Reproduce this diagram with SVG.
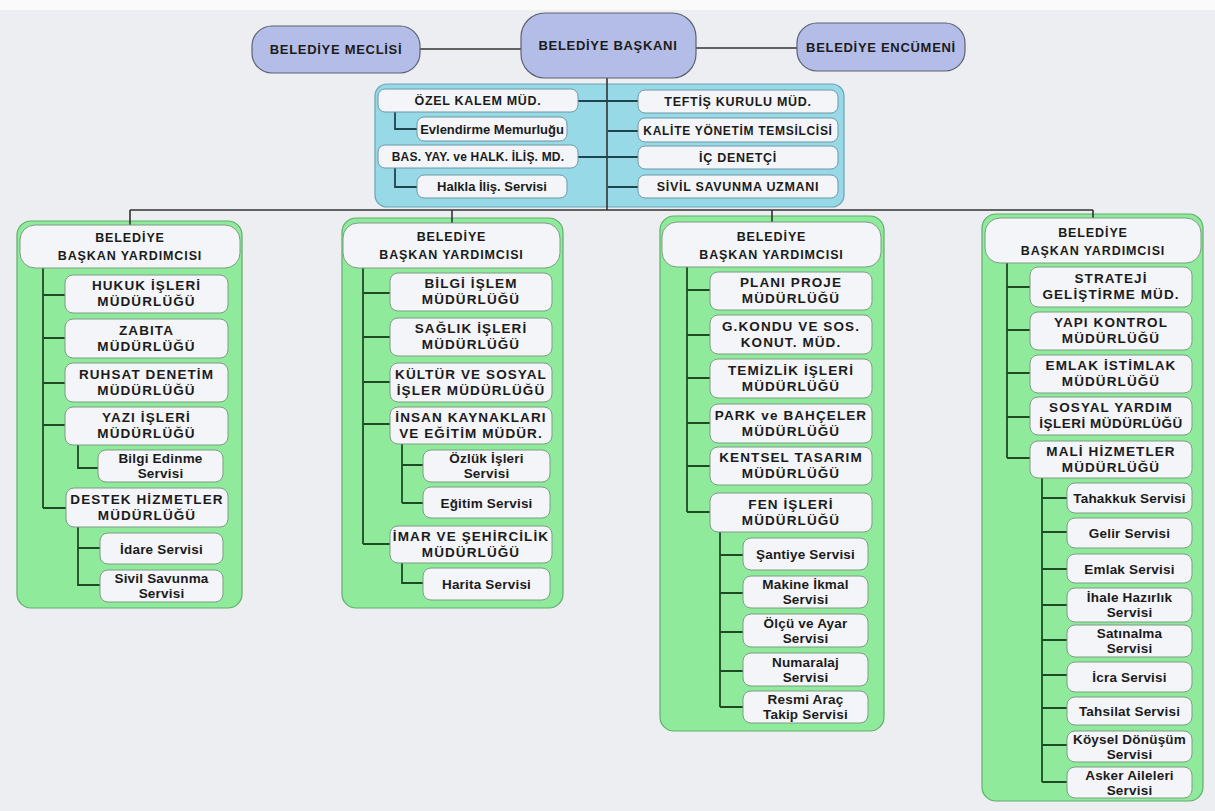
<svg xmlns="http://www.w3.org/2000/svg" width="1215" height="811" viewBox="0 0 1215 811">
<style>
text{font-family:"Liberation Sans",Arial,sans-serif;font-weight:bold;fill:#1b1b1b;text-anchor:middle}
.t{font-size:13px;letter-spacing:0.7px}
.h{font-size:12.5px;letter-spacing:0.9px}
.cc{font-size:12.5px;letter-spacing:0.7px}
.c{font-size:13.5px;letter-spacing:1.1px}
.s{font-size:13.5px;letter-spacing:0.2px}
.sc{font-size:13px}
.top{fill:#b3bde8;stroke:#5c6272;stroke-width:1.2}
.pc{fill:#98d9e8;stroke:#6aa6b4;stroke-width:1.2}
.pg{fill:#8fea9c;stroke:#5fae6a;stroke-width:1.2}
.bx{fill:#f3f5f8;stroke:#7c9c84;stroke-width:1}
.bxc{fill:#f3f5f8;stroke:#6c98a4;stroke-width:1}
.ln{fill:none;stroke:#333;stroke-width:1.6}
.lc{fill:none;stroke:#1f4450;stroke-width:1.8}
.lg{fill:none;stroke:#1f4a24;stroke-width:1.8}
</style>
<rect width="1215" height="811" fill="#eceef1"/>
<rect width="1215" height="10" fill="#fafafa"/>

<!-- containers -->
<g id="panel-staff"><rect class="pc" x="375" y="84" width="469" height="123" rx="12"/></g>
<g id="panel-col1"><rect class="pg" x="17" y="221" width="225" height="387" rx="14"/></g>
<g id="panel-col2"><rect class="pg" x="342" y="218" width="221" height="390" rx="14"/></g>
<g id="panel-col3"><rect class="pg" x="660" y="216" width="224" height="515" rx="14"/></g>
<g id="panel-col4"><rect class="pg" x="982" y="214" width="221" height="587" rx="14"/></g>

<!-- connectors -->
<g id="connectors">
<path class="ln" d="M420 49H521M696 48H797M607 78V210M130 210H1093M130 210V225M452 210V223M772 210V222M1093 210V218"/>
<path class="lc" d="M578 101H638M608 131H638M578 157H638M608 187H638M395 112V129H417M395 168V187H417"/>
<path class="lg" d="M43 268V508M43 295H65M43 338H65M43 383H65M43 425H65M43 508H66M78 445V468H98M78 527V585H100M78 548H100"/>
<path class="lg" d="M363 268V544M363 293H390M363 337H390M363 382H390M363 424H390M363 544H390M402 444V503M402 465H423M402 503H423M402 563V583H423"/>
<path class="lg" d="M687 267V512M687 290H710M687 335H710M687 378H710M687 423H710M687 466H710M687 512H710M720 532V707M720 555H743M720 593H743M720 632H743M720 671H743M720 707H743"/>
<path class="lg" d="M1007 263V458M1007 287H1030M1007 330H1030M1007 373H1030M1007 417H1030M1007 458H1030M1042 478V782M1042 498H1067M1042 532H1067M1042 569H1067M1042 605H1067M1042 640H1067M1042 675H1067M1042 708H1067M1042 745H1067M1042 782H1067"/>
</g>

<!-- top -->
<g id="meclis"><rect class="top" x="252" y="26" width="168" height="47" rx="20"/><text class="t" x="336" y="54">BELEDİYE MECLİSİ</text></g>
<g id="baskan"><rect class="top" x="521" y="13" width="175" height="65" rx="24"/><text class="t" x="608" y="50">BELEDİYE BAŞKANI</text></g>
<g id="encumen"><rect class="top" x="797" y="23" width="168" height="48" rx="20"/><text class="t" x="881" y="52">BELEDİYE ENCÜMENİ</text></g>

<!-- staff -->
<g id="ozel"><rect class="bxc" x="378" y="89" width="200" height="23" rx="7"/><text class="cc" x="478" y="105">ÖZEL KALEM MÜD.</text></g>
<g id="evlendirme"><rect class="bxc" x="417" y="117" width="150" height="24" rx="7"/><text class="sc" x="492" y="133.5">Evlendirme Memurluğu</text></g>
<g id="basyay"><rect class="bxc" x="378" y="145" width="200" height="23" rx="7"/><text class="sc" x="478" y="161" style="font-size:12px;letter-spacing:0.2px">BAS. YAY. ve HALK. İLİŞ. MD.</text></g>
<g id="halkla"><rect class="bxc" x="417" y="175" width="150" height="23" rx="7"/><text class="sc" x="492" y="191">Halkla İliş. Servisi</text></g>
<g id="teftis"><rect class="bxc" x="638" y="90" width="200" height="23" rx="7"/><text class="cc" x="738" y="106">TEFTİŞ KURULU MÜD.</text></g>
<g id="kalite"><rect class="bxc" x="638" y="118" width="200" height="24" rx="7"/><text class="cc" x="738" y="134.5" style="font-size:12px">KALİTE YÖNETİM TEMSİLCİSİ</text></g>
<g id="icdenetci"><rect class="bxc" x="638" y="146" width="200" height="23" rx="7"/><text class="cc" x="738" y="162">İÇ DENETÇİ</text></g>
<g id="sivilsavunma"><rect class="bxc" x="638" y="175" width="200" height="23" rx="7"/><text class="cc" x="738" y="191">SİVİL SAVUNMA UZMANI</text></g>

<!-- column 1 -->
<g id="c1-head"><rect class="bx" x="20" y="225" width="220" height="43" rx="15"/><text class="h"><tspan x="130" y="242">BELEDİYE</tspan><tspan x="130" y="260">BAŞKAN YARDIMCISI</tspan></text></g>
<g id="hukuk"><rect class="bx" x="65" y="275" width="163" height="38" rx="8"/><text class="c"><tspan x="146.5" y="290">HUKUK İŞLERİ</tspan><tspan x="146.5" y="306">MÜDÜRLÜĞÜ</tspan></text></g>
<g id="zabita"><rect class="bx" x="65" y="319" width="163" height="39" rx="8"/><text class="c"><tspan x="146.5" y="334.5">ZABITA</tspan><tspan x="146.5" y="350.5">MÜDÜRLÜĞÜ</tspan></text></g>
<g id="ruhsat"><rect class="bx" x="65" y="363" width="163" height="39" rx="8"/><text class="c"><tspan x="146.5" y="378.5">RUHSAT DENETİM</tspan><tspan x="146.5" y="394.5">MÜDÜRLÜĞÜ</tspan></text></g>
<g id="yazi"><rect class="bx" x="65" y="407" width="163" height="38" rx="8"/><text class="c"><tspan x="146.5" y="422">YAZI İŞLERİ</tspan><tspan x="146.5" y="438">MÜDÜRLÜĞÜ</tspan></text></g>
<g id="bilgiedinme"><rect class="bx" x="98" y="450" width="125" height="32" rx="8"/><text class="s"><tspan x="160.5" y="463">Bilgi Edinme</tspan><tspan x="160.5" y="478">Servisi</tspan></text></g>
<g id="destek"><rect class="bx" x="66" y="488" width="162" height="39" rx="8"/><text class="c"><tspan x="147" y="503.5">DESTEK HİZMETLER</tspan><tspan x="147" y="519.5">MÜDÜRLÜĞÜ</tspan></text></g>
<g id="idare"><rect class="bx" x="100" y="533" width="123" height="31" rx="8"/><text class="s" x="161.5" y="553.5">İdare Servisi</text></g>
<g id="sivilservis"><rect class="bx" x="100" y="570" width="123" height="32" rx="8"/><text class="s"><tspan x="161.5" y="583">Sivil Savunma</tspan><tspan x="161.5" y="598">Servisi</tspan></text></g>

<!-- column 2 -->
<g id="c2-head"><rect class="bx" x="343" y="223" width="217" height="45" rx="15"/><text class="h"><tspan x="451.5" y="241">BELEDİYE</tspan><tspan x="451.5" y="259">BAŞKAN YARDIMCISI</tspan></text></g>
<g id="bilgiislem"><rect class="bx" x="390" y="273" width="162" height="38" rx="8"/><text class="c"><tspan x="471" y="288">BİLGİ İŞLEM</tspan><tspan x="471" y="304">MÜDÜRLÜĞÜ</tspan></text></g>
<g id="saglik"><rect class="bx" x="390" y="318" width="162" height="38" rx="8"/><text class="c"><tspan x="471" y="333">SAĞLIK İŞLERİ</tspan><tspan x="471" y="349">MÜDÜRLÜĞÜ</tspan></text></g>
<g id="kultur"><rect class="bx" x="390" y="363" width="162" height="39" rx="8"/><text class="c"><tspan x="471" y="378.5">KÜLTÜR VE SOSYAL</tspan><tspan x="471" y="394.5">İŞLER MÜDÜRLÜĞÜ</tspan></text></g>
<g id="insan"><rect class="bx" x="390" y="407" width="162" height="37" rx="8"/><text class="c"><tspan x="471" y="421.5">İNSAN KAYNAKLARI</tspan><tspan x="471" y="437.5">VE EĞİTİM MÜDÜR.</tspan></text></g>
<g id="ozluk"><rect class="bx" x="423" y="450" width="127" height="32" rx="8"/><text class="s"><tspan x="486.5" y="463">Özlük İşleri</tspan><tspan x="486.5" y="478">Servisi</tspan></text></g>
<g id="egitim"><rect class="bx" x="423" y="487" width="127" height="31" rx="8"/><text class="s" x="486.5" y="507.5">Eğitim Servisi</text></g>
<g id="imar"><rect class="bx" x="390" y="526" width="162" height="37" rx="8"/><text class="c"><tspan x="471" y="540.5">İMAR VE ŞEHİRCİLİK</tspan><tspan x="471" y="556.5">MÜDÜRLÜĞÜ</tspan></text></g>
<g id="harita"><rect class="bx" x="423" y="568" width="127" height="32" rx="8"/><text class="s" x="486.5" y="589">Harita Servisi</text></g>

<!-- column 3 -->
<g id="c3-head"><rect class="bx" x="662" y="222" width="219" height="45" rx="15"/><text class="h"><tspan x="771.5" y="240.5">BELEDİYE</tspan><tspan x="771.5" y="258.5">BAŞKAN YARDIMCISI</tspan></text></g>
<g id="plani"><rect class="bx" x="710" y="272" width="162" height="38" rx="8"/><text class="c"><tspan x="791" y="287">PLANI PROJE</tspan><tspan x="791" y="303">MÜDÜRLÜĞÜ</tspan></text></g>
<g id="gkondu"><rect class="bx" x="710" y="315" width="162" height="39" rx="8"/><text class="c"><tspan x="791" y="330.5">G.KONDU VE SOS.</tspan><tspan x="791" y="346.5">KONUT. MÜD.</tspan></text></g>
<g id="temizlik"><rect class="bx" x="710" y="359" width="162" height="39" rx="8"/><text class="c"><tspan x="791" y="374.5">TEMİZLİK İŞLERİ</tspan><tspan x="791" y="390.5">MÜDÜRLÜĞÜ</tspan></text></g>
<g id="park"><rect class="bx" x="710" y="404" width="162" height="39" rx="8"/><text class="c"><tspan x="791" y="419.5">PARK ve BAHÇELER</tspan><tspan x="791" y="435.5">MÜDÜRLÜĞÜ</tspan></text></g>
<g id="kentsel"><rect class="bx" x="710" y="447" width="162" height="38" rx="8"/><text class="c"><tspan x="791" y="462">KENTSEL TASARIM</tspan><tspan x="791" y="478">MÜDÜRLÜĞÜ</tspan></text></g>
<g id="fen"><rect class="bx" x="710" y="493" width="162" height="39" rx="8"/><text class="c"><tspan x="791" y="508.5">FEN İŞLERİ</tspan><tspan x="791" y="524.5">MÜDÜRLÜĞÜ</tspan></text></g>
<g id="santiye"><rect class="bx" x="743" y="538" width="125" height="32" rx="8"/><text class="s" x="805.5" y="559">Şantiye Servisi</text></g>
<g id="makine"><rect class="bx" x="743" y="576" width="125" height="32" rx="8"/><text class="s"><tspan x="805.5" y="589">Makine İkmal</tspan><tspan x="805.5" y="604">Servisi</tspan></text></g>
<g id="olcu"><rect class="bx" x="743" y="614" width="125" height="33" rx="8"/><text class="s"><tspan x="805.5" y="627.5">Ölçü ve Ayar</tspan><tspan x="805.5" y="642.5">Servisi</tspan></text></g>
<g id="numaralaj"><rect class="bx" x="743" y="653" width="125" height="33" rx="8"/><text class="s"><tspan x="805.5" y="666.5">Numaralaj</tspan><tspan x="805.5" y="681.5">Servisi</tspan></text></g>
<g id="resmiarac"><rect class="bx" x="743" y="691" width="125" height="32" rx="8"/><text class="s"><tspan x="805.5" y="704">Resmi Araç</tspan><tspan x="805.5" y="719">Takip Servisi</tspan></text></g>

<!-- column 4 -->
<g id="c4-head"><rect class="bx" x="985" y="218" width="216" height="45" rx="15"/><text class="h"><tspan x="1093" y="236.5">BELEDİYE</tspan><tspan x="1093" y="254.5">BAŞKAN YARDIMCISI</tspan></text></g>
<g id="strateji"><rect class="bx" x="1030" y="267" width="162" height="40" rx="8"/><text class="c"><tspan x="1111" y="283">STRATEJİ</tspan><tspan x="1111" y="299">GELİŞTİRME MÜD.</tspan></text></g>
<g id="yapi"><rect class="bx" x="1030" y="312" width="162" height="38" rx="8"/><text class="c"><tspan x="1111" y="327">YAPI KONTROL</tspan><tspan x="1111" y="343">MÜDÜRLÜĞÜ</tspan></text></g>
<g id="emlakistimlak"><rect class="bx" x="1030" y="355" width="162" height="38" rx="8"/><text class="c"><tspan x="1111" y="370">EMLAK İSTİMLAK</tspan><tspan x="1111" y="386">MÜDÜRLÜĞÜ</tspan></text></g>
<g id="sosyal"><rect class="bx" x="1030" y="397" width="162" height="38" rx="8"/><text class="c"><tspan x="1111" y="412">SOSYAL YARDIM</tspan><tspan x="1111" y="428" style="letter-spacing:0.5px">İŞLERİ MÜDÜRLÜĞÜ</tspan></text></g>
<g id="mali"><rect class="bx" x="1030" y="441" width="162" height="37" rx="8"/><text class="c"><tspan x="1111" y="455.5">MALİ HİZMETLER</tspan><tspan x="1111" y="471.5">MÜDÜRLÜĞÜ</tspan></text></g>
<g id="tahakkuk"><rect class="bx" x="1067" y="483" width="125" height="30" rx="8"/><text class="s" x="1129.5" y="503">Tahakkuk Servisi</text></g>
<g id="gelir"><rect class="bx" x="1067" y="518" width="125" height="30" rx="8"/><text class="s" x="1129.5" y="538">Gelir Servisi</text></g>
<g id="emlakservis"><rect class="bx" x="1067" y="554" width="125" height="29" rx="8"/><text class="s" x="1129.5" y="573.5">Emlak Servisi</text></g>
<g id="ihale"><rect class="bx" x="1067" y="588" width="125" height="34" rx="8"/><text class="s"><tspan x="1129.5" y="602">İhale Hazırlık</tspan><tspan x="1129.5" y="617">Servisi</tspan></text></g>
<g id="satinalma"><rect class="bx" x="1067" y="625" width="125" height="32" rx="8"/><text class="s"><tspan x="1129.5" y="638">Satınalma</tspan><tspan x="1129.5" y="653">Servisi</tspan></text></g>
<g id="icra"><rect class="bx" x="1067" y="662" width="125" height="30" rx="8"/><text class="s" x="1129.5" y="682">İcra Servisi</text></g>
<g id="tahsilat"><rect class="bx" x="1067" y="697" width="125" height="28" rx="8"/><text class="s" x="1129.5" y="716">Tahsilat Servisi</text></g>
<g id="koysel"><rect class="bx" x="1067" y="731" width="125" height="31" rx="8"/><text class="s"><tspan x="1129.5" y="743.5">Köysel Dönüşüm</tspan><tspan x="1129.5" y="758.5">Servisi</tspan></text></g>
<g id="asker"><rect class="bx" x="1067" y="767" width="125" height="31" rx="8"/><text class="s"><tspan x="1129.5" y="779.5">Asker Aileleri</tspan><tspan x="1129.5" y="794.5">Servisi</tspan></text></g>
</svg>
